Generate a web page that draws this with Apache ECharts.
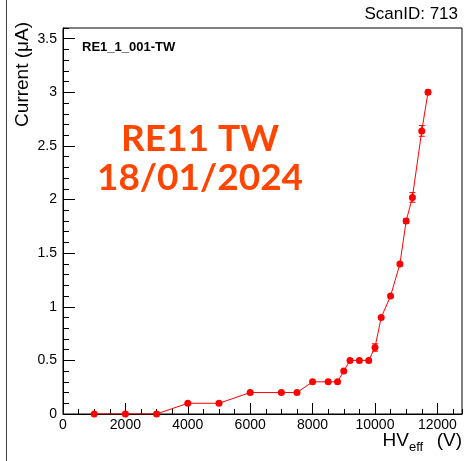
<!DOCTYPE html>
<html>
<head>
<meta charset="utf-8">
<script src="https://cdn.jsdelivr.net/npm/echarts@6/dist/echarts.min.js"></script>
<style>
html,body{margin:0;padding:0;background:#fff;}
#chart{width:464px;height:461px;}
</style>
</head>
<body>
<div id="chart"></div>
<script>
var hvEff = [1000,2000,3000,4000,5000,6000,7000,7500,8000,8500,8800,9000,9200,9500,9800,10000,10200,10500,10800,11000,11200,11500,11700];
var current = [0,0,0,0.1,0.1,0.2,0.2,0.2,0.3,0.3,0.3,0.4,0.5,0.5,0.5,0.62,0.9,1.1,1.4,1.8,2.02,2.64,3.0];
var currentErr = [0,0,0,0,0,0,0,0,0,0,0,0,0,0,0,0.035,0,0,0,0.02,0.045,0.05,0.02];
var xTitle = ['HV', 'eff', '(V)'];
var yTitle = 'Current (μA)';
var scanLabel = 'ScanID: 713';
var chamberLabel = 'RE1_1_001-TW';
var noteLines = ['RE11 TW', '18/01/2024'];

var pts = hvEff.map(function(v,i){return [v, current[i]];});
var errPts = hvEff.map(function(v,i){return [v, current[i], currentErr[i]];});

var FONT = '"Liberation Sans", Arial, Helvetica, sans-serif';
var chart = echarts.init(document.getElementById('chart'));
var xMax = 12790, yMax = 3.6;

chart.setOption({
  animation: false,
  backgroundColor: '#ffffff',
  grid: {left: 63, right: 2, top: 28, bottom: 47, show: true, borderColor: '#000', borderWidth: 1, backgroundColor: 'transparent'},
  xAxis: [
    {type: 'value', position: 'bottom', min: 0, max: xMax, interval: 2000,
     axisLine: {show: true, lineStyle: {color: '#000', width: 1}},
     axisTick: {show: true, inside: true, length: 11, lineStyle: {color: '#000'}},
     axisLabel: {show: true, showMaxLabel: false, color: '#000', fontSize: 14, fontFamily: FONT, margin: 4,
       formatter: function(v){return String(v);}},
     splitLine: {show: false}},
    {type: 'value', position: 'bottom', min: 0, max: xMax, interval: 500,
     axisLine: {show: false},
     axisTick: {show: true, inside: true, length: 5, lineStyle: {color: '#000'}},
     axisLabel: {show: false}, splitLine: {show: false}}
  ],
  yAxis: [
    {type: 'value', position: 'left', min: 0, max: yMax, interval: 0.5,
     axisLine: {show: true, lineStyle: {color: '#000', width: 1}},
     axisTick: {show: true, inside: true, length: 12, lineStyle: {color: '#000'}},
     axisLabel: {show: true, showMaxLabel: false, color: '#000', fontSize: 14, fontFamily: FONT, margin: 6,
       formatter: function(v){return String(v);}},
     splitLine: {show: false}},
    {type: 'value', position: 'left', min: 0, max: yMax, interval: 0.1,
     axisLine: {show: false},
     axisTick: {show: true, inside: true, length: 6, lineStyle: {color: '#000'}},
     axisLabel: {show: false}, splitLine: {show: false}}
  ],
  series: [
    {type: 'custom', xAxisIndex: 0, yAxisIndex: 0, data: errPts, z: 3,
     renderItem: function(params, api){
       var e = api.value(2);
       if (!e) return;
       var x = api.value(0), y = api.value(1);
       var top = api.coord([x, y + e]);
       var bot = api.coord([x, y - e]);
       var c = top[0];
       return {type: 'group', children: [
         {type: 'line', shape: {x1: c, y1: top[1], x2: c, y2: bot[1]}, style: {stroke: '#ff0000', lineWidth: 1}},
         {type: 'line', shape: {x1: c-3, y1: top[1], x2: c+3, y2: top[1]}, style: {stroke: '#ff0000', lineWidth: 1}},
         {type: 'line', shape: {x1: c-3, y1: bot[1], x2: c+3, y2: bot[1]}, style: {stroke: '#ff0000', lineWidth: 1}}
       ]};
     }},
    {type: 'line', xAxisIndex: 0, yAxisIndex: 0, data: pts, z: 4,
     symbol: 'circle', symbolSize: 7, showSymbol: true,
     lineStyle: {color: '#ff0000', width: 1},
     itemStyle: {color: '#ff0000', borderWidth: 0}}
  ],
  graphic: [
    {type: 'line', shape: {x1: 6.5, y1: 0, x2: 6.5, y2: 461}, style: {stroke: '#444', lineWidth: 1}},
    {type: 'text', x: 458, y: 14, style: {text: scanLabel, textAlign: 'right', textVerticalAlign: 'middle', font: '17px ' + FONT, fill: '#000'}},
    {type: 'text', x: 82, y: 47, style: {text: chamberLabel, textAlign: 'left', textVerticalAlign: 'middle', font: 'bold 13px ' + FONT, fill: '#000'}},
    {type: 'text', x: 200, y: 139, style: {text: noteLines[0], textAlign: 'center', textVerticalAlign: 'middle', font: 'bold 37px Lato, sans-serif', fill: '#ff4500'}},
    {type: 'text', x: 200, y: 178, style: {text: noteLines[1], textAlign: 'center', textVerticalAlign: 'middle', font: 'bold 37px Lato, sans-serif', fill: '#ff4500'}},
    {type: 'text', x: 23, y: 22, rotation: Math.PI/2, style: {text: yTitle, textAlign: 'right', textVerticalAlign: 'middle', font: '19px ' + FONT, fill: '#000'}},
    {type: 'text', x: 462, y: 441, style: {text: xTitle[2], textAlign: 'right', textVerticalAlign: 'middle', font: '19px ' + FONT, fill: '#000'}},
    {type: 'text', x: 409, y: 447, style: {text: xTitle[1], textAlign: 'left', textVerticalAlign: 'middle', font: '13px ' + FONT, fill: '#000'}},
    {type: 'text', x: 409, y: 441, style: {text: xTitle[0], textAlign: 'right', textVerticalAlign: 'middle', font: '19px ' + FONT, fill: '#000'}}
  ]
});
</script>
</body>
</html>
